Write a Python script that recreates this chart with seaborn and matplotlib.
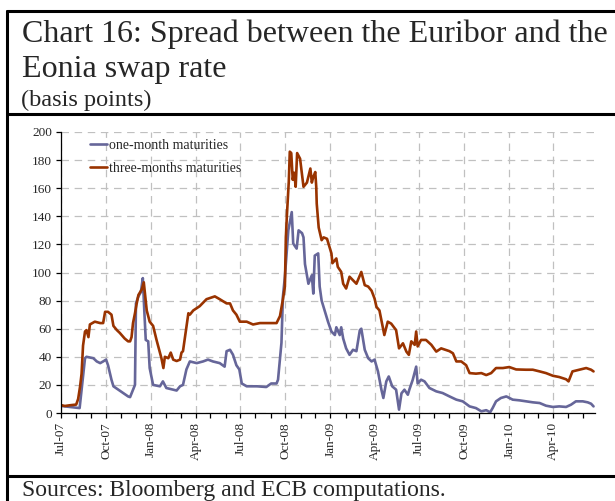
import numpy as np
import pandas as pd
import matplotlib
matplotlib.use('Agg')
import matplotlib.pyplot as plt
import matplotlib.dates as mdates
from matplotlib.lines import Line2D
import seaborn as sns

# spread in basis points
one_month_dates = ['2007-07-02', '2007-07-09', '2007-08-08', '2007-08-12', '2007-08-19', '2007-08-22',
                   '2007-09-05', '2007-09-12', '2007-09-19', '2007-09-25', '2007-10-01', '2007-10-05',
                   '2007-10-12', '2007-10-16', '2007-10-26', '2007-11-05', '2007-11-15', '2007-11-19',
                   '2007-11-25', '2007-11-29', '2007-12-01', '2007-12-06', '2007-12-11', '2007-12-15',
                   '2007-12-18', '2007-12-21', '2007-12-26', '2007-12-29', '2008-01-05', '2008-01-19',
                   '2008-01-25', '2008-02-01', '2008-02-15', '2008-02-22', '2008-02-29', '2008-03-06',
                   '2008-03-13', '2008-03-20', '2008-04-03', '2008-04-16', '2008-04-26', '2008-05-06',
                   '2008-05-20', '2008-05-30', '2008-06-03', '2008-06-10', '2008-06-16', '2008-06-23',
                   '2008-06-29', '2008-07-04', '2008-07-14', '2008-08-04', '2008-08-23', '2008-09-02',
                   '2008-09-13', '2008-09-16', '2008-09-23', '2008-09-26', '2008-09-30', '2008-10-07',
                   '2008-10-14', '2008-10-17', '2008-10-24', '2008-10-28', '2008-11-04', '2008-11-07',
                   '2008-11-10', '2008-11-17', '2008-11-24', '2008-11-27', '2008-11-30', '2008-12-07',
                   '2008-12-10', '2008-12-14', '2008-12-20', '2008-12-27', '2009-01-03', '2009-01-10',
                   '2009-01-13', '2009-01-20', '2009-01-23', '2009-01-27', '2009-02-02', '2009-02-09',
                   '2009-02-16', '2009-02-23', '2009-03-02', '2009-03-05', '2009-03-12', '2009-03-19',
                   '2009-03-26', '2009-04-01', '2009-04-08', '2009-04-15', '2009-04-19', '2009-04-25',
                   '2009-04-30', '2009-05-07', '2009-05-15', '2009-05-21', '2009-05-26', '2009-06-01',
                   '2009-06-08', '2009-06-11', '2009-06-18', '2009-06-25', '2009-06-28', '2009-07-05',
                   '2009-07-12', '2009-07-22', '2009-08-05', '2009-08-18', '2009-09-01', '2009-09-15',
                   '2009-09-28', '2009-10-12', '2009-10-25', '2009-11-05', '2009-11-15', '2009-11-23',
                   '2009-11-28', '2009-12-05', '2009-12-15', '2009-12-26', '2010-01-08', '2010-01-22',
                   '2010-02-04', '2010-02-18', '2010-03-04', '2010-03-17', '2010-03-31', '2010-04-13',
                   '2010-04-27', '2010-05-07', '2010-05-17', '2010-05-31', '2010-06-10', '2010-06-17',
                   '2010-06-22']
one_month_bp = [5, 4.7, 3.5, 16.6, 39, 40,
                39, 36.7, 35.5, 36.7, 38, 34,
                23.7, 19, 16.6, 14.2, 11.8, 11.3,
                16.6, 20, 78, 83, 86, 96,
                73, 52, 51, 32, 20, 19,
                22.5, 17.8, 16.6, 16, 19, 20,
                31, 36.7, 35.5, 36.7, 38, 36.7,
                35.5, 33, 44, 45, 41.5, 34,
                31, 21, 19, 19, 18.5, 21,
                21, 23.7, 50, 83, 97, 130,
                143, 120.6, 117, 130, 128, 125,
                106, 92, 98, 85, 112, 113.6,
                90, 80, 73, 65, 58, 55.5,
                61, 55.5, 61, 53, 46, 41.4,
                45, 44, 59, 60, 45, 39,
                36.7, 38, 29.6, 16.6, 10.7, 22.5,
                26, 19, 16.6, 2.4, 14, 16.6,
                13, 16.6, 23.7, 33, 21, 23.7,
                22.5, 17.8, 15.4, 14.2, 11.8, 9.5,
                8.3, 4.7, 3.5, 1.2, 2, 0.5,
                3.5, 8.3, 10.7, 11.8, 9.5, 9,
                8.3, 7.6, 7.1, 5.2, 4.3, 4.7,
                4.3, 5.9, 8.3, 8.3, 7.6, 6.6,
                4.7]

three_month_dates = ['2007-07-02', '2007-07-09', '2007-07-19', '2007-08-01', '2007-08-05', '2007-08-09',
                     '2007-08-12', '2007-08-15', '2007-08-19', '2007-08-22', '2007-08-26', '2007-08-29',
                     '2007-09-08', '2007-09-19', '2007-09-25', '2007-09-29', '2007-10-05', '2007-10-12',
                     '2007-10-16', '2007-10-23', '2007-10-29', '2007-11-08', '2007-11-15', '2007-11-19',
                     '2007-11-22', '2007-11-25', '2007-11-29', '2007-12-02', '2007-12-06', '2007-12-13',
                     '2007-12-17', '2007-12-23', '2007-12-29', '2008-01-05', '2008-01-12', '2008-01-19',
                     '2008-01-22', '2008-01-26', '2008-01-29', '2008-02-05', '2008-02-10', '2008-02-15',
                     '2008-02-22', '2008-02-29', '2008-03-03', '2008-03-06', '2008-03-10', '2008-03-17',
                     '2008-03-20', '2008-03-27', '2008-04-09', '2008-04-23', '2008-05-10', '2008-05-20',
                     '2008-06-03', '2008-06-10', '2008-06-16', '2008-06-23', '2008-06-30', '2008-07-14',
                     '2008-07-27', '2008-08-10', '2008-08-23', '2008-09-13', '2008-09-20', '2008-09-26',
                     '2008-09-30', '2008-10-02', '2008-10-04', '2008-10-08', '2008-10-10', '2008-10-13',
                     '2008-10-16', '2008-10-19', '2008-10-22', '2008-10-25', '2008-10-31', '2008-11-07',
                     '2008-11-14', '2008-11-21', '2008-11-24', '2008-11-27', '2008-12-01', '2008-12-03',
                     '2008-12-04', '2008-12-08', '2008-12-14', '2008-12-18', '2008-12-25', '2008-12-28',
                     '2009-01-03', '2009-01-05', '2009-01-13', '2009-01-16', '2009-01-23', '2009-01-27',
                     '2009-02-02', '2009-02-09', '2009-02-16', '2009-02-23', '2009-03-05', '2009-03-12',
                     '2009-03-19', '2009-03-26', '2009-04-01', '2009-04-05', '2009-04-11', '2009-04-18',
                     '2009-04-21', '2009-04-28', '2009-05-05', '2009-05-15', '2009-05-21', '2009-05-29',
                     '2009-06-05', '2009-06-10', '2009-06-15', '2009-06-22', '2009-06-25', '2009-06-28',
                     '2009-07-05', '2009-07-15', '2009-07-26', '2009-08-05', '2009-08-15', '2009-09-01',
                     '2009-09-08', '2009-09-15', '2009-09-25', '2009-10-05', '2009-10-12', '2009-10-25',
                     '2009-11-05', '2009-11-15', '2009-11-25', '2009-12-05', '2009-12-19', '2010-01-01',
                     '2010-01-15', '2010-02-04', '2010-02-18', '2010-03-04', '2010-03-17', '2010-03-31',
                     '2010-04-13', '2010-04-27', '2010-05-02', '2010-05-10', '2010-05-24', '2010-06-07',
                     '2010-06-17', '2010-06-22']
three_month_bp = [5.5, 5, 5.5, 6, 10, 19,
                  28, 48, 58, 59, 54, 63,
                  65, 64, 64, 72, 72, 70,
                  62, 59, 57, 53, 51, 51,
                  54, 64, 71, 77, 84, 88,
                  93, 73, 65, 62, 52, 43,
                  39, 32, 40, 39, 43, 38,
                  37, 38, 43, 44, 54, 71,
                  70, 73, 76, 81, 83, 81,
                  78, 78, 73, 70, 65, 65,
                  63, 64, 64, 64, 69, 81,
                  90, 125, 140, 165, 186, 185,
                  166, 171, 161, 185, 181, 161,
                  164, 174, 164, 168, 171.5, 161,
                  149, 132, 123, 125, 124, 120.6,
                  113.6, 106.6, 110, 104, 100.4, 92,
                  88.6, 97, 94.5, 92, 100.4, 91,
                  90, 87, 81.5, 75.5, 73, 61,
                  55.5, 65, 63.6, 59, 46, 49.6,
                  43.7, 41.4, 51, 48.5, 58, 47.4,
                  52, 52, 48.5, 43.7, 46, 44,
                  42.5, 36.7, 36.7, 34, 28.4, 28,
                  28.4, 27, 28.4, 32, 32, 32.7,
                  31, 30.8, 30.8, 29.6, 28.4, 26.5,
                  25.6, 24, 22.5, 29.6, 30.8, 32,
                  30.8, 29.6]

series_names = ['one-month maturities', 'three-months maturities']
series_colors = ['#666699', '#993300']
y_ticks = list(range(0, 201, 20))

sns.set_theme(style='white')
plt.rcParams['font.family'] = ['Liberation Serif', 'DejaVu Serif']

df = pd.concat([
    pd.DataFrame({'date': pd.to_datetime(one_month_dates), 'bp': one_month_bp, 'series': series_names[0]}),
    pd.DataFrame({'date': pd.to_datetime(three_month_dates), 'bp': three_month_bp, 'series': series_names[1]}),
], ignore_index=True)

fig = plt.figure(figsize=(6.15, 5.01), dpi=100)
ax = fig.add_axes([61 / 615, 1 - 413 / 501, 534 / 615, 281 / 501])

sns.lineplot(data=df, x='date', y='bp', hue='series', hue_order=series_names,
             palette=series_colors, linewidth=1.9, ax=ax, legend=False)

ax.set_xlim(pd.Timestamp('2007-07-01'), pd.Timestamp('2010-06-25'))
ax.set_ylim(0, 200)
ax.set_yticks(y_ticks)
ax.xaxis.set_major_locator(mdates.MonthLocator(bymonth=[1, 4, 7, 10]))
ax.xaxis.set_minor_locator(mdates.MonthLocator())
ax.xaxis.set_major_formatter(mdates.DateFormatter('%b-%y'))
ax.set_xlabel('')
ax.set_ylabel('')

ax.grid(True, which='major', color='#c0c0c0', linestyle=(0, (6, 4.5)), linewidth=0.9)
ax.set_axisbelow(True)
for side in ['top', 'right']:
    ax.spines[side].set_visible(False)
for side in ['left', 'bottom']:
    ax.spines[side].set_color('black')
    ax.spines[side].set_linewidth(0.9)

ax.tick_params(axis='y', which='major', direction='out', length=3.5, width=0.9, color='black',
               labelsize=9.5, pad=3, left=True)
ax.tick_params(axis='x', which='both', direction='out', length=3.5, width=0.9, color='black',
               labelsize=9.5, pad=3, bottom=True)
plt.setp(ax.get_xticklabels(), rotation=90)

handles = [Line2D([], [], color=c, linewidth=1.9) for c in series_colors]
ax.legend(handles, series_names, loc='upper left', bbox_to_anchor=(0.054, 0.975),
          frameon=False, fontsize=10, handlelength=1.25, handletextpad=0.15,
          labelspacing=0.7, borderpad=0, borderaxespad=0)

# frame lines of the ECB box
lw = 2.2
fig.add_artist(Line2D([7 / 615, 7 / 615], [0, 1 - 11 / 501], color='black', linewidth=lw))
fig.add_artist(Line2D([7 / 615, 1], [1 - 11 / 501, 1 - 11 / 501], color='black', linewidth=lw))
fig.add_artist(Line2D([7 / 615, 1], [1 - 114 / 501, 1 - 114 / 501], color='black', linewidth=lw))
fig.add_artist(Line2D([7 / 615, 1], [1 - 476 / 501, 1 - 476 / 501], color='black', linewidth=lw))

fig.text(22 / 615, 1 - 42 / 501, 'Chart 16: Spread between the Euribor and the', fontsize=23,
         va='baseline', ha='left')
fig.text(22 / 615, 1 - 77 / 501, 'Eonia swap rate', fontsize=23, va='baseline', ha='left')
fig.text(21 / 615, 1 - 106 / 501, '(basis points)', fontsize=17.5, va='baseline', ha='left')
fig.text(22 / 615, 1 - 496 / 501, 'Sources: Bloomberg and ECB computations.', fontsize=17,
         va='baseline', ha='left')

fig.savefig('out.png', dpi=100)
